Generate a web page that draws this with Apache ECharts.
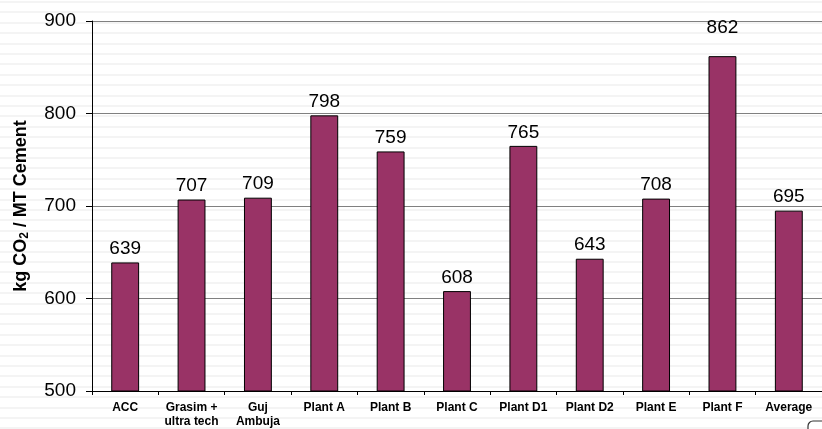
<!DOCTYPE html>
<html>
<head>
<meta charset="utf-8">
<script src="https://cdn.jsdelivr.net/npm/echarts@6/dist/echarts.min.js"></script>
<style>
html,body{margin:0;padding:0;}
body{background:repeating-linear-gradient(to bottom,#ffffff 0px,#ffffff 1px,#f4f4f4 1px,#f4f4f4 3px,#ffffff 3px,#ffffff 10.4px);}
#c{width:822px;height:429px;}
</style>
</head>
<body>
<div id="c"></div>
<script>
var categories = ['ACC','Grasim +\nultra tech','Guj\nAmbuja','Plant A','Plant B','Plant C','Plant D1','Plant D2','Plant E','Plant F','Average'];
var values = [639,707,709,798,759,608,765,643,708,862,695];
var yTicks = {min:500,max:900,interval:100};

var seriesData = values.map(function(v, i){
  var item = {value: v};
  if (i === 9) item.label = {offset:[0,-15]};
  return item;
});

var chart = echarts.init(document.getElementById('c'));
chart.setOption({
  backgroundColor:'transparent',
  animation:false,
  grid:{left:92,right:0,top:21,bottom:38},
  xAxis:{
    type:'category',
    data:categories,
    axisLine:{lineStyle:{color:'#000',width:1}},
    axisTick:{show:true,length:4,inside:false,lineStyle:{color:'#000'}},
    axisLabel:{color:'#000',fontFamily:'Liberation Sans, Arial',fontWeight:'bold',fontSize:12,lineHeight:14,margin:10,interval:0}
  },
  yAxis:{
    type:'value',
    min:yTicks.min,max:yTicks.max,interval:yTicks.interval,
    name:'kg CO{sub|2} / MT Cement',
    nameLocation:'middle',
    nameRotate:90,
    nameGap:61,
    nameTextStyle:{
      color:'#000',fontFamily:'Liberation Sans, Arial',fontWeight:'bold',fontSize:18,
      rich:{sub:{fontSize:12,fontWeight:'bold',fontFamily:'Liberation Sans, Arial',color:'#000',verticalAlign:'bottom',padding:[7,0,0,0]}}
    },
    axisLine:{show:true,lineStyle:{color:'#000',width:1}},
    axisTick:{show:true,length:6,lineStyle:{color:'#000'}},
    axisLabel:{color:'#000',fontFamily:'Liberation Sans, Arial',fontSize:19,margin:16},
    splitLine:{show:true,lineStyle:{color:'#808080',width:1}}
  },
  series:[{
    type:'bar',
    data:seriesData,
    barWidth:'42%',
    itemStyle:{color:'#993366',borderColor:'#000',borderWidth:1},
    label:{show:true,position:'top',distance:4,color:'#000',fontFamily:'Liberation Sans, Arial',fontSize:19}
  }],
  graphic:[{
    type:'rect',
    shape:{x:808,y:421,width:30,height:20,r:5},
    style:{fill:'#fff',stroke:'#333',lineWidth:1.2},
    silent:true
  }]
});
</script>
</body>
</html>
